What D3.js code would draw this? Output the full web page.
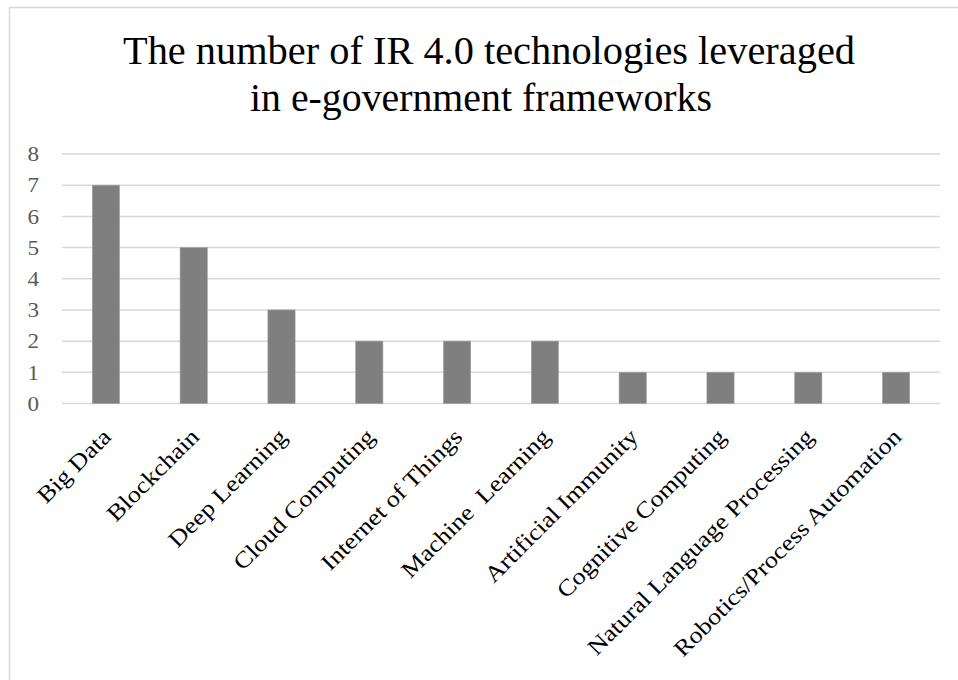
<!DOCTYPE html>
<html>
<head>
<meta charset="utf-8">
<script src="https://cdn.jsdelivr.net/npm/d3@7"></script>
<style>
  html, body { margin: 0; padding: 0; background: #fff; overflow: hidden; }
  text { font-family: "Liberation Serif", "DejaVu Serif", serif; }
</style>
</head>
<body>
<div id="chart"></div>
<script>
// data
const categories = ["Big Data", "Blockchain", "Deep Learning", "Cloud Computing", "Internet of Things",
  "Machine  Learning", "Artificial Immunity", "Cognitive Computing", "Natural Language Processing",
  "Robotics/Process Automation"];
const counts = [7, 5, 3, 2, 2, 2, 1, 1, 1, 1];
const yTicks = [0, 1, 2, 3, 4, 5, 6, 7, 8];
const titleLines = ["The number of IR 4.0 technologies leveraged", "in e-government frameworks"];

const W = 958, H = 680;
const plot = { left: 62, right: 940, top: 154, bottom: 403.5 };
// the original face (Palatino-like) is wider than Times, stretch a bit
const widen = 1.14;
const titleCenters = [489, 481];
const titleWidths = [732, 462];

const svg = d3.select("#chart").append("svg")
  .attr("width", W).attr("height", H);

// chart area border (runs off the right and bottom of the picture)
svg.append("rect")
  .attr("x", 9.5).attr("y", 7.5)
  .attr("width", W + 20).attr("height", H + 20)
  .attr("fill", "#fff").attr("stroke", "#d9d9d9").attr("stroke-width", 1.5);

// title
svg.append("g").selectAll("text")
  .data(titleLines)
  .enter().append("text")
  .attr("x", (d, i) => titleCenters[i])
  .attr("y", (d, i) => 64 + i * 47)
  .attr("text-anchor", "middle")
  .attr("textLength", (d, i) => titleWidths[i])
  .attr("lengthAdjust", "spacingAndGlyphs")
  .style("font-size", "39px")
  .style("fill", "#000")
  .text(d => d);

const x = d3.scaleBand()
  .domain(categories)
  .range([plot.left, plot.right])
  .paddingInner(0.69)
  .paddingOuter(0.345);

const y = d3.scaleLinear()
  .domain([0, 8])
  .range([plot.bottom, plot.top]);

// gridlines
svg.append("g")
  .selectAll("line")
  .data(yTicks)
  .enter().append("line")
  .attr("x1", plot.left).attr("x2", plot.right)
  .attr("y1", d => y(d)).attr("y2", d => y(d))
  .attr("stroke", "#d9d9d9").attr("stroke-width", 1.5);

// y axis labels
const yAxis = svg.append("g")
  .attr("transform", `translate(${plot.left}, 0)`)
  .call(d3.axisLeft(y).tickValues(yTicks).tickSize(0).tickPadding(23));
yAxis.select(".domain").remove();
yAxis.selectAll("text")
  .style("font-family", "'Liberation Serif', serif")
  .style("font-size", "21px")
  .style("fill", "#595959")
  .each(function() {
    const len = this.getComputedTextLength();
    d3.select(this).attr("textLength", len * 1.1).attr("lengthAdjust", "spacingAndGlyphs");
  });

// bars
svg.selectAll(".bar")
  .data(categories)
  .enter().append("rect")
  .attr("class", "bar")
  .attr("x", d => x(d))
  .attr("y", (d, i) => y(counts[i]))
  .attr("width", x.bandwidth())
  .attr("height", (d, i) => y(0) - y(counts[i]))
  .attr("fill", "#7f7f7f")
  .attr("stroke", "#a0a0a0")
  .attr("stroke-width", 0.6);

// category labels, rotated 45 degrees
const xAxis = svg.append("g")
  .attr("transform", `translate(0, ${plot.bottom})`)
  .call(d3.axisBottom(x).tickSize(0).tickPadding(0));
xAxis.select(".domain").remove();
xAxis.selectAll("text")
  .attr("text-anchor", "end")
  .attr("transform", "translate(1, 29) rotate(-45)")
  .attr("dy", "0.35em")
  .attr("y", 0)
  .style("white-space", "pre")
  .style("font-family", "'Liberation Serif', serif")
  .style("font-size", "23px")
  .style("fill", "#000")
  .each(function() {
    const len = this.getComputedTextLength();
    d3.select(this).attr("textLength", len * widen).attr("lengthAdjust", "spacingAndGlyphs");
  });
</script>
</body>
</html>
